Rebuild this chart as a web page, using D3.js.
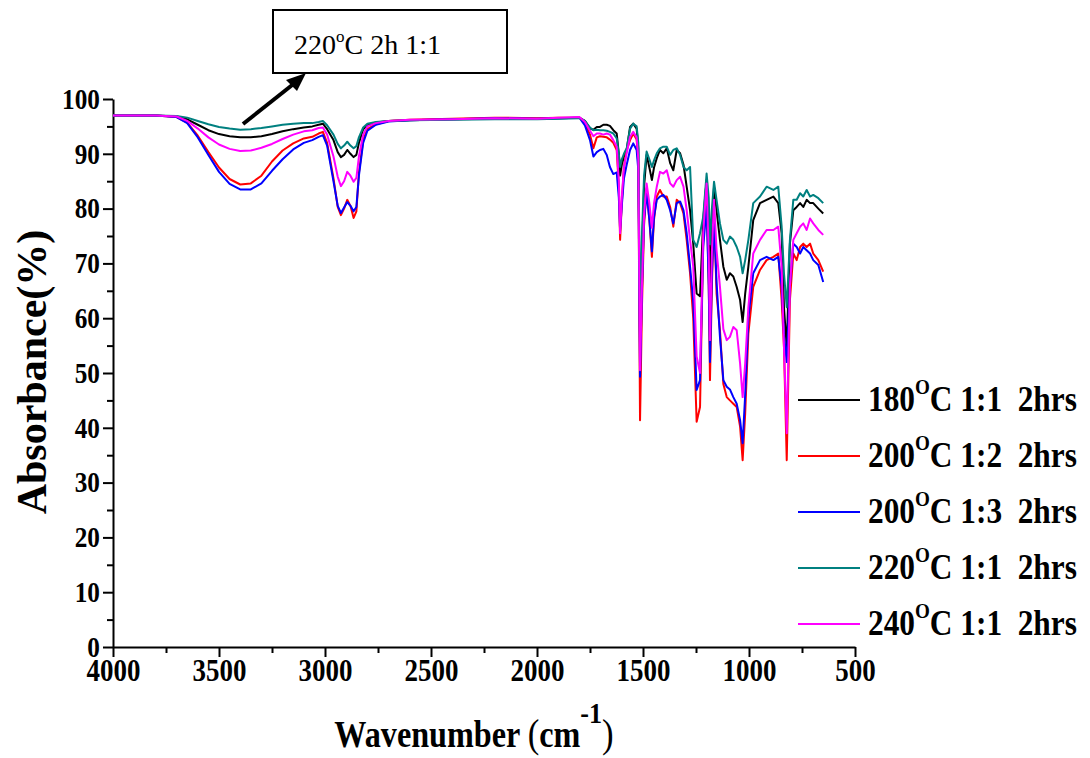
<!DOCTYPE html>
<html>
<head>
<meta charset="utf-8">
<script src="https://cdn.jsdelivr.net/npm/d3@7/dist/d3.min.js"></script>
<style>
  body { margin: 0; background: #fff; }
  svg { display: block; }
  text { font-family: "Liberation Serif", "Times New Roman", serif; }
</style>
</head>
<body>
<svg id="chart" width="1090" height="758"></svg>
<script>
// FTIR spectra: wavenumber grid (cm-1) and absorbance (%) per sample
const wavenumbers = [
  4000, 3800, 3700, 3650, 3600, 3550, 3500, 3450, 3400, 3350, 3300, 3250, 3200, 3150, 3100, 3060, 3030, 3010,
  2990, 2960, 2940, 2925, 2910, 2895, 2880, 2865, 2852, 2840, 2820, 2800, 2760, 2700, 2600, 2400, 2200, 2000,
  1900, 1800, 1774, 1750, 1734, 1718, 1703, 1687, 1671, 1656, 1640, 1624, 1614, 1608, 1600, 1590, 1577, 1561,
  1546, 1530, 1522, 1514, 1505, 1495, 1483, 1470, 1458, 1448, 1435, 1420, 1404, 1388, 1372, 1357, 1341, 1325,
  1309, 1294, 1278, 1263, 1247, 1231, 1216, 1200, 1190, 1184, 1175, 1165, 1153, 1137, 1121, 1105, 1090, 1074,
  1058, 1042, 1030, 1018, 1003, 980, 948, 917, 885, 862, 846, 835, 822, 807, 791, 775, 759, 744, 728, 712,
  697, 673, 650
];

const abs180_11 = [
  97.0, 97.0, 96.8, 96.3, 95.3, 94.3, 93.6, 93.2, 93.0, 93.0, 93.2, 93.6, 94.1, 94.5, 94.8, 95.0, 95.3, 95.5,
  94.5, 92.5, 90.3, 89.4, 89.8, 90.7, 90.0, 89.4, 89.8, 92.0, 94.5, 95.2, 95.7, 96.0, 96.1, 96.3, 96.4, 96.4,
  96.5, 96.6, 96.0, 94.6, 94.4, 94.9, 94.9, 95.3, 95.3, 95.1, 94.3, 93.7, 90.0, 86.0, 88.0, 89.5, 90.7, 94.9,
  95.5, 94.6, 91.0, 55.0, 72.0, 84.0, 89.8, 87.5, 85.2, 87.5, 89.2, 90.7, 90.1, 91.0, 88.3, 87.0, 90.7, 90.1,
  88.0, 84.0, 79.7, 73.6, 64.5, 64.0, 77.9, 85.2, 78.0, 66.5, 76.0, 84.0, 79.7, 74.3, 69.4, 67.0, 68.2, 67.6,
  65.7, 63.3, 59.3, 64.5, 69.4, 77.9, 81.0, 81.6, 82.2, 81.0, 75.5, 62.0, 54.7, 73.6, 79.7, 80.3, 81.0, 80.3, 81.6, 81.0,
  81.0, 80.0, 79.1
];

const abs200_12 = [
  97.0, 97.0, 96.7, 95.7, 93.3, 90.3, 87.5, 85.4, 84.4, 84.6, 86.0, 88.6, 90.6, 91.9, 92.8, 93.1, 93.7, 94.0,
  92.0, 85.5, 80.3, 78.8, 80.0, 81.6, 80.5, 78.3, 79.5, 86.5, 92.5, 94.5, 95.4, 96.0, 96.2, 96.4, 96.6, 96.5,
  96.6, 96.6, 95.6, 93.5, 91.0, 93.0, 93.2, 93.1, 93.0, 92.6, 92.0, 90.7, 84.0, 74.3, 81.0, 87.5, 90.7, 92.5,
  93.7, 92.6, 88.0, 41.4, 62.0, 77.0, 83.7, 78.0, 71.2, 78.0, 82.2, 83.4, 82.2, 82.2, 80.3, 76.7, 81.6, 81.0,
  79.1, 74.3, 68.2, 60.0, 41.1, 43.8, 74.0, 82.8, 66.0, 48.7, 66.0, 79.7, 64.5, 57.8, 48.0, 45.6, 45.0, 44.4,
  43.8, 40.2, 34.1, 42.6, 57.2, 65.7, 68.8, 70.6, 71.2, 71.8, 63.3, 54.7, 34.1, 63.3, 71.8, 70.6, 73.0, 73.6, 73.0, 73.6,
  71.8, 70.6, 68.5
];

const abs200_13 = [
  97.0, 97.0, 96.7, 95.6, 93.0, 89.8, 86.7, 84.5, 83.5, 83.5, 84.6, 86.9, 89.0, 90.8, 92.0, 92.5, 93.1, 93.4,
  91.5, 85.0, 80.5, 79.2, 80.2, 81.2, 80.5, 79.5, 80.3, 86.0, 92.0, 94.2, 95.3, 95.9, 96.1, 96.3, 96.5, 96.4,
  96.5, 96.6, 95.2, 92.5, 89.5, 90.3, 90.7, 90.9, 89.8, 87.6, 86.3, 86.6, 82.0, 76.0, 80.5, 85.5, 88.0, 90.7,
  91.9, 90.7, 87.0, 49.3, 65.0, 78.0, 82.8, 78.0, 72.2, 78.5, 81.6, 82.2, 82.5, 81.6, 79.7, 77.3, 81.0, 81.3,
  79.7, 75.5, 69.4, 63.0, 46.9, 48.7, 73.0, 80.3, 66.0, 52.0, 68.0, 77.9, 66.5, 56.6, 48.7, 47.5, 47.0, 45.6,
  44.4, 41.4, 37.2, 46.0, 60.0, 68.2, 70.6, 71.2, 70.6, 71.2, 65.7, 57.0, 52.0, 66.0, 73.6, 73.0, 71.8, 73.0, 72.4, 71.8,
  70.6, 69.7, 66.6
];

const abs220_11 = [
  97.0, 97.0, 96.9, 96.6, 96.0, 95.4, 94.9, 94.6, 94.4, 94.5, 94.7, 95.0, 95.3, 95.5, 95.6, 95.6, 95.8, 96.0,
  95.2, 93.5, 91.8, 91.0, 91.5, 92.2, 91.5, 91.0, 91.4, 93.0, 94.8, 95.5, 95.8, 96.0, 96.1, 96.2, 96.3, 96.3,
  96.4, 96.5, 96.0, 94.8, 94.3, 94.4, 94.3, 94.3, 94.2, 94.0, 93.7, 92.8, 90.0, 87.6, 89.0, 90.0, 91.0, 94.6,
  95.5, 95.0, 92.0, 60.0, 75.0, 86.0, 90.4, 89.0, 87.6, 88.8, 90.1, 91.0, 91.3, 91.3, 89.8, 90.7, 91.0, 89.8,
  87.6, 87.0, 87.6, 74.3, 73.0, 75.5, 78.5, 86.4, 82.0, 73.5, 80.0, 84.9, 81.6, 77.3, 74.3, 73.6, 74.9, 74.3,
  73.0, 71.2, 68.2, 70.6, 74.3, 81.0, 82.2, 84.0, 83.4, 84.0, 76.7, 68.2, 62.0, 74.3, 81.6, 81.6, 82.8, 82.2, 83.4, 82.2,
  82.5, 81.9, 81.0
];

const abs240_11 = [
  97.0, 97.0, 96.8, 96.0, 94.6, 93.0, 91.7, 90.9, 90.5, 90.6, 91.1, 91.8, 92.7, 93.5, 94.1, 94.3, 94.7, 94.8,
  93.5, 89.5, 85.8, 84.1, 85.0, 86.7, 86.0, 84.9, 85.6, 89.5, 93.5, 95.0, 95.6, 96.0, 96.2, 96.3, 96.5, 96.4,
  96.6, 96.7, 95.8, 94.2, 93.2, 93.7, 93.7, 93.5, 93.7, 93.5, 92.5, 91.3, 85.0, 75.5, 82.0, 87.6, 90.1, 93.1,
  94.0, 93.0, 89.0, 50.5, 66.0, 79.0, 84.6, 81.0, 76.5, 81.0, 84.0, 86.7, 86.4, 87.0, 84.6, 84.0, 85.2, 85.8,
  84.0, 79.7, 74.3, 69.4, 53.0, 50.0, 75.5, 84.6, 72.0, 56.0, 72.0, 81.6, 72.4, 65.7, 58.0, 56.0, 56.6, 58.4,
  57.8, 51.7, 45.6, 51.7, 62.0, 71.8, 74.3, 76.1, 76.1, 76.7, 69.4, 54.7, 39.0, 66.0, 74.3, 75.5, 76.7, 77.3, 76.1, 78.2,
  77.3, 76.1, 75.2
];

const seriesLabels = [
  ["180", "C 1:1\u00a0\u00a02hrs"],
  ["200", "C 1:2\u00a0\u00a02hrs"],
  ["200", "C 1:3\u00a0\u00a02hrs"],
  ["220", "C 1:1\u00a0\u00a02hrs"],
  ["240", "C 1:1\u00a0\u00a02hrs"]
];
const seriesColors = ["#000000", "#ff0000", "#0000ff", "#008080", "#ff00ff"];
const seriesValues = [abs180_11, abs200_12, abs200_13, abs220_11, abs240_11];

const xTickValues = [4000, 3500, 3000, 2500, 2000, 1500, 1000, 500];
const xMinorTicks = [3750, 3250, 2750, 2250, 1750, 1250, 750];
const yTickValues = [0, 10, 20, 30, 40, 50, 60, 70, 80, 90, 100];
const yMinorTicks = [5, 15, 25, 35, 45, 55, 65, 75, 85, 95];

const svg = d3.select("#chart");
const squeeze = 0.87; // narrow glyph look of the axis fonts

const x = d3.scaleLinear().domain([4000, 500]).range([113, 855]);
const y = d3.scaleLinear().domain([0, 100]).range([647, 99]);

// axes
const xAxis = svg.append("g").attr("transform", `translate(0,${y(0)})`)
  .call(d3.axisBottom(x).tickValues(xTickValues).tickSize(10).tickSizeOuter(0).tickPadding(2).tickFormat(d3.format("d")));
svg.append("g").attr("transform", `translate(0,${y(0)})`)
  .call(d3.axisBottom(x).tickValues(xMinorTicks).tickSize(6).tickSizeOuter(0).tickFormat(""))
  .select(".domain").remove();
const yAxis = svg.append("g").attr("transform", `translate(${x(4000)},0)`)
  .call(d3.axisLeft(y).tickValues(yTickValues).tickSize(10).tickSizeOuter(0).tickPadding(5).tickFormat(d3.format("d")));
svg.append("g").attr("transform", `translate(${x(4000)},0)`)
  .call(d3.axisLeft(y).tickValues(yMinorTicks).tickSize(6).tickSizeOuter(0).tickFormat(""))
  .select(".domain").remove();

svg.selectAll(".domain").attr("stroke", "#000").attr("stroke-width", 2);
svg.selectAll(".tick line").attr("stroke", "#000").attr("stroke-width", 2);
xAxis.selectAll(".tick text")
  .attr("font-family", "Liberation Serif").attr("font-weight", "bold").attr("font-size", 31).attr("fill", "#000")
  .attr("transform", `scale(${squeeze},1)`);
yAxis.selectAll(".tick text")
  .attr("font-family", "Liberation Serif").attr("font-weight", "bold").attr("font-size", 29).attr("fill", "#000")
  .attr("transform", `scale(${squeeze},1)`);

// spectra
const line = d3.line()
  .x((d, i) => x(wavenumbers[i]))
  .y(d => y(d));

svg.append("g").selectAll("path")
  .data(seriesValues)
  .join("path")
  .attr("d", d => line(d))
  .attr("fill", "none")
  .attr("stroke", (d, i) => seriesColors[i])
  .attr("stroke-width", 2)
  .attr("stroke-linejoin", "round");

// legend
const legend = svg.append("g");
seriesLabels.forEach((lab, i) => {
  const cy = 400 + i * 56;
  legend.append("line")
    .attr("x1", 798).attr("x2", 860).attr("y1", cy).attr("y2", cy)
    .attr("stroke", seriesColors[i]).attr("stroke-width", 2);
  const t = legend.append("text")
    .attr("transform", `translate(868,${cy + 11}) scale(${squeeze},1)`)
    .attr("font-weight", "bold").attr("font-size", 36).attr("fill", "#000");
  t.append("tspan").text(lab[0]);
  t.append("tspan").attr("font-size", 22).attr("dy", -17).text("O");
  t.append("tspan").attr("dy", 17).text(lab[1]);
});

// axis titles
const xt = svg.append("text")
  .attr("transform", `translate(474,747) scale(${squeeze},1)`)
  .attr("text-anchor", "middle").attr("font-size", 37).attr("fill", "#000");
xt.append("tspan").attr("font-weight", "bold").text("Wavenumber ");
xt.append("tspan").attr("font-weight", "normal").attr("font-size", 40).text("(");
xt.append("tspan").attr("font-weight", "bold").text("cm");
xt.append("tspan").attr("font-weight", "bold").attr("font-size", 30).attr("dy", -24).text("-1");
xt.append("tspan").attr("font-weight", "normal").attr("font-size", 40).attr("dy", 24).text(")");

svg.append("text")
  .attr("transform", "translate(46,372) rotate(-90)")
  .attr("text-anchor", "middle").attr("font-weight", "bold").attr("font-size", 42).attr("fill", "#000")
  .text("Absorbance(%)");

// callout box with arrow
svg.append("rect")
  .attr("x", 273).attr("y", 10).attr("width", 234).attr("height", 63)
  .attr("fill", "#fff").attr("stroke", "#000").attr("stroke-width", 2);
const note = svg.append("text")
  .attr("x", 294).attr("y", 54).attr("font-size", 28).attr("fill", "#000");
note.append("tspan").text("220");
note.append("tspan").attr("font-size", 17).attr("dy", -12).text("o");
note.append("tspan").attr("dy", 12).text("C 2h 1:1");

svg.append("line")
  .attr("x1", 243).attr("y1", 124).attr("x2", 296).attr("y2", 82)
  .attr("stroke", "#000").attr("stroke-width", 4);
svg.append("path")
  .attr("d", "M306,73 L286,80 L297,91 Z")
  .attr("fill", "#000");
</script>
</body>
</html>
